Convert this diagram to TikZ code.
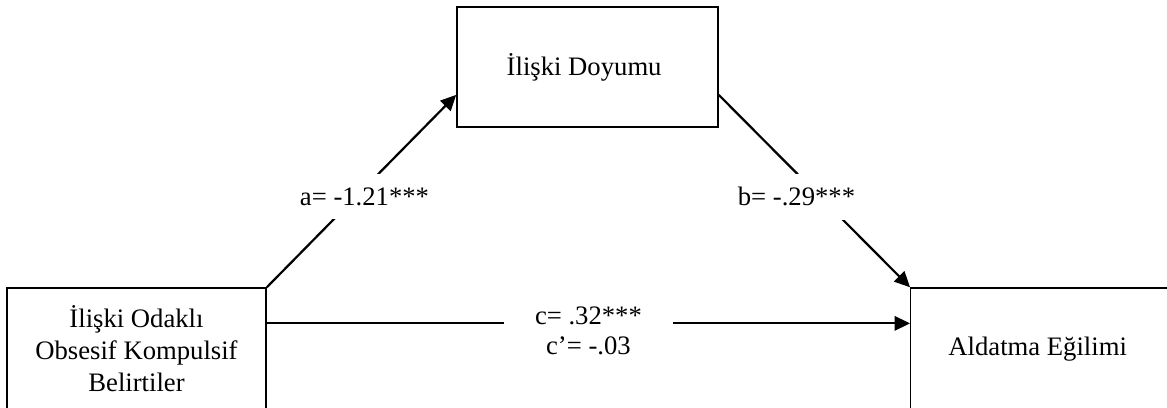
\documentclass[tikz,border=0pt]{standalone}
\usepackage{fontspec}
\setmainfont{Liberation Serif}
\usetikzlibrary{arrows.meta}

\begin{document}
\begin{tikzpicture}[thick,
  box/.style={draw, line width=.6pt, rectangle, minimum width=4.12cm, minimum
  height=1.92cm, align=center, font=\fontsize{12pt}{14.2pt}\selectfont},
  arr/.style={line width=1pt, -{Triangle[length=7pt, width=6.5pt]}},
  coef/.style={fill=white, inner sep=6pt, align=center, font=\fontsize{12pt}{13.5pt}\selectfont}]

\useasboundingbox (0,0) rectangle (18.456,6.437);
\clip (0,0) rectangle (18.456,6.437);

\node [box, minimum width=4.13cm, minimum height=1.9cm] (doyum) at (9.291,5.377) { İlişki Doyumu };

\node [box, minimum width=4.1cm] (belirti) at (2.159,0.923) { İlişki Odaklı\\ Obsesif Kompulsif\\ Belirtiler };
\node [box] (aldatma) at (16.463,0.923) { Aldatma Eğilimi };

% yollar
\draw [arr] (belirti.north east) -- node [coef, xshift=.1cm, yshift=-.09cm] { a= -1.21*** }
([shift={(0,-.44)}]doyum.west);
\draw [arr] ([shift={(0,-.44)}]doyum.east) -- node [coef, xshift=-.23cm, yshift=-.09cm] { b= -.29*** }
(aldatma.north west);
\draw [arr] ([shift={(0,.4)}]belirti.east) -- node [coef, inner xsep=14pt, yshift=-.12cm] { c= .32***\\ c’= -.03 }
([shift={(0,.4)}]aldatma.west);
\end{tikzpicture}
\end{document}
